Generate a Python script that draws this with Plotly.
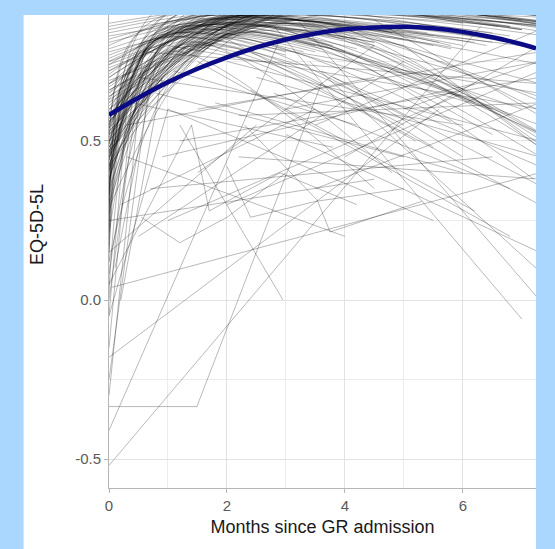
import plotly.graph_objects as go

# ---------------- data ----------------
# fitted mean trajectory (thick blue curve)
fit_x = [0, 0.5, 1, 1.5, 2, 2.5, 3, 3.5, 4, 4.5, 5, 5.5, 6, 6.5, 7, 7.24]
fit_y = [0.582, 0.636, 0.685, 0.727, 0.763, 0.794, 0.819, 0.838, 0.851,
         0.857, 0.859, 0.854, 0.843, 0.826, 0.804, 0.791]

# individual curved trajectories: start value at month 0, peak (x, y), end (x, y)
curve_y0 = [0.02, 0.05, 0.08, 0.10, 0.12, 0.15, 0.17, 0.19, 0.21, 0.23, 0.25, 0.27, 0.28, 0.30, 0.31, 0.33, 0.34, 0.12, 0.22, 0.29,
            0.36, 0.38, 0.40, 0.41, 0.42, 0.43, 0.44, 0.45, 0.46, 0.47, 0.48, 0.49, 0.50, 0.51, 0.52, 0.53, 0.54, 0.55, 0.56, 0.57,
            0.58, 0.59, 0.60, 0.37, 0.39, 0.42, 0.44, 0.46, 0.48, 0.50, 0.52, 0.54, 0.56, 0.58, 0.45, 0.49, 0.53, 0.57, 0.41, 0.47,
            0.61, 0.62, 0.63, 0.64, 0.65, 0.66, 0.67, 0.68, 0.69, 0.70, 0.71, 0.72, 0.73, 0.74, 0.75, 0.76, 0.77, 0.78, 0.79, 0.80,
            0.81, 0.82, 0.83, 0.84, 0.85, 0.86, 0.87, 0.63, 0.68, 0.74,
            0.30, 0.45, 0.55, 0.65, 0.72, 0.40, 0.60, 0.50, 0.35, 0.68, 0.58, 0.48, 0.75, 0.42, 0.62, 0.52, 0.38, 0.70, 0.56, 0.46,
            0.66, 0.33, 0.54, 0.64]
curve_xpeak = [0.9, 0.7, 1.1, 0.6, 0.8, 1.0, 0.5, 0.9, 1.3, 0.7, 0.6, 1.2, 0.8, 0.5, 1.5, 0.9, 0.7, 1.6, 1.0, 2.0,
               1.0, 1.5, 0.8, 2.0, 1.2, 2.5, 0.9, 1.8, 1.1, 3.0, 1.4, 0.7, 2.2, 1.6, 1.0, 2.8, 1.3, 0.8, 2.0, 1.5,
               3.2, 1.1, 2.4, 0.9, 1.7, 2.6, 1.2, 0.8, 2.1, 1.5, 3.0, 1.0, 1.9, 2.5, 1.3, 0.9, 2.3, 1.6, 1.1, 2.7,
               2.0, 1.5, 3.0, 2.5, 1.2, 3.5, 2.0, 1.8, 4.0, 2.2, 1.5, 3.0, 2.8, 1.6, 3.5, 2.4, 1.9, 4.0, 2.6, 1.4,
               3.2, 2.0, 3.8, 2.5, 1.8, 3.0, 2.2, 1.0, 2.9, 3.4,
               1.5, 2.0, 1.2, 2.5, 1.8, 1.0, 3.0, 2.2, 1.4, 2.8, 1.6, 2.4, 2.0, 1.1, 3.2, 1.9, 1.3, 2.6, 2.1, 1.7,
               3.4, 1.2, 2.3, 2.9]
curve_ypeak = [0.80, 0.84, 0.78, 0.86, 0.82, 0.88, 0.80, 0.85, 0.90, 0.83, 0.79, 0.87, 0.91, 0.84, 0.86, 0.89, 0.82, 0.80, 0.88, 0.85,
               0.86, 0.88, 0.82, 0.90, 0.85, 0.92, 0.84, 0.87, 0.89, 0.91, 0.83, 0.81, 0.88, 0.86, 0.90, 0.93, 0.85, 0.84, 0.89, 0.87,
               0.92, 0.86, 0.90, 0.83, 0.88, 0.91, 0.85, 0.82, 0.87, 0.89, 0.93, 0.84, 0.88, 0.90, 0.86, 0.83, 0.89, 0.87, 0.85, 0.91,
               0.88, 0.86, 0.90, 0.89, 0.85, 0.92, 0.87, 0.88, 0.91, 0.90, 0.86, 0.93, 0.89, 0.88, 0.92, 0.90, 0.87, 0.94, 0.91, 0.89,
               0.93, 0.90, 0.92, 0.91, 0.90, 0.94, 0.92, 0.84, 0.89, 0.93,
               0.82, 0.86, 0.80, 0.88, 0.85, 0.78, 0.87, 0.84, 0.80, 0.89, 0.83, 0.86, 0.87, 0.79, 0.88, 0.85, 0.81, 0.90, 0.84, 0.82,
               0.88, 0.80, 0.86, 0.87]
curve_xend = [4.0, 6.5, 3.2, 8.0, 5.5, 7.5, 2.5, 9.0, 6.0, 4.5, 8.5, 3.8, 7.0, 5.0, 9.0, 6.8, 3.0, 7.8, 8.2, 5.8,
              5.0, 7.0, 3.5, 8.5, 6.0, 9.0, 4.2, 7.5, 5.5, 9.0, 6.5, 3.0, 8.0, 6.8, 4.8, 9.0, 7.2, 3.8, 8.8, 5.2,
              9.0, 6.2, 8.0, 4.5, 7.8, 9.0, 5.8, 3.3, 8.4, 6.6, 9.0, 4.0, 7.0, 8.6, 6.4, 3.6, 8.2, 7.4, 5.6, 9.0,
              6.0, 4.5, 8.5, 7.0, 3.8, 9.0, 5.5, 6.5, 9.0, 7.8, 4.2, 9.0, 8.0, 5.0, 9.0, 7.5, 6.2, 9.0, 8.6, 4.8,
              9.0, 6.8, 9.0, 8.2, 5.4, 9.0, 7.6, 3.5, 8.8, 9.0,
              6.0, 7.5, 5.0, 8.5, 7.0, 4.5, 9.0, 6.5, 5.5, 8.0, 6.8, 7.2, 8.8, 5.2, 9.0, 6.2, 4.8, 8.4, 7.8, 5.8,
              9.0, 5.0, 7.4, 8.6]
curve_yend = [0.78, 0.82, 0.74, 0.85, 0.80, 0.86, 0.79, 0.83, 0.87, 0.81, 0.76, 0.84, 0.88, 0.80, 0.82, 0.86, 0.78, 0.72, 0.85, 0.80,
              0.82, 0.85, 0.78, 0.88, 0.80, 0.87, 0.79, 0.84, 0.86, 0.85, 0.81, 0.77, 0.86, 0.83, 0.84, 0.88, 0.80, 0.80, 0.87, 0.82,
              0.86, 0.83, 0.85, 0.81, 0.84, 0.89, 0.79, 0.78, 0.83, 0.86, 0.87, 0.82, 0.85, 0.84, 0.80, 0.79, 0.88, 0.83, 0.81, 0.86,
              0.84, 0.80, 0.87, 0.85, 0.79, 0.88, 0.83, 0.84, 0.86, 0.87, 0.82, 0.89, 0.85, 0.84, 0.88, 0.86, 0.81, 0.87, 0.88, 0.85,
              0.89, 0.86, 0.87, 0.88, 0.84, 0.90, 0.87, 0.80, 0.83, 0.86,
              0.45, 0.50, 0.55, 0.40, 0.60, 0.35, 0.30, 0.52, 0.48, 0.45, 0.58, 0.38, 0.55, 0.50, 0.42, 0.62, 0.40, 0.35, 0.48, 0.56,
              0.25, 0.58, 0.44, 0.52]

# individuals with two observations (straight segments): start (x, y) -> end (x, y)
seg_x0 = [0.0, 0.0, 0.0, 0.05, 1.2, 2.8, 3.2, 3.4, 3.0, 2.0, 1.5, 2.5, 3.0, 1.0, 0.3, 0.5, 1.0, 2.0, 0.2, 3.5,
          0.0, 1.5, 4.0, 0.7, 2.2, 0.0, 1.8, 4.5, 5.0, 0.0, 0.0, 0.2, 0.0, 0.0, 0.0, 0.0, 0.0, 0.1, 2.4, 3.6,
          0.5, 1.0, 1.2, 0.8, 2.0, 1.5, 2.5, 3.0, 0.3, 0.6, 1.8, 4.0, 3.5, 2.8, 1.1, 5.0, 0.9, 2.2, 3.8, 0.4]
seg_y0 = [-0.41, -0.52, -0.18, 0.04, 0.55, 0.86, 0.88, 0.75, 0.52, 0.82, 0.75, 0.70, 0.85, 0.60, 0.45, 0.20, 0.25, 0.30, 0.30, 0.35,
          0.15, 0.40, 0.45, 0.35, 0.45, 0.25, 0.62, 0.88, 0.80, 0.05, -0.05, 0.00, -0.30, -0.15, -0.05, 0.00, -0.25, 0.10, 0.66, 0.72,
          0.70, 0.80, 0.50, 0.65, 0.75, 0.60, 0.80, 0.60, 0.55, 0.78, 0.85, 0.85, 0.55, 0.65, 0.72, 0.60, 0.45, 0.58, 0.70, 0.62]
seg_x1 = [2.9, 6.3, 5.6, 7.3, 2.95, 7.0, 7.3, 7.3, 7.3, 7.3, 6.8, 7.3, 7.3, 5.5, 4.0, 5.0, 6.0, 7.3, 3.5, 7.3,
          2.5, 4.5, 7.3, 6.5, 7.3, 4.5, 6.0, 7.3, 7.3, 1.4, 1.0, 0.9, 0.5, 0.4, 0.3, 0.6, 0.7, 0.8, 6.2, 7.3,
          6.0, 7.3, 7.3, 5.0, 7.3, 7.3, 7.3, 7.3, 4.5, 7.3, 6.5, 7.3, 7.3, 6.8, 4.2, 7.3, 6.2, 7.3, 7.3, 3.8]
seg_y1 = [0.82, 0.86, 0.60, 0.40, 0.00, -0.06, 0.00, 0.09, 0.15, 0.30, 0.20, 0.45, 0.55, 0.25, 0.20, 0.75, 0.65, 0.72, 0.60, 0.62,
          0.55, 0.80, 0.80, 0.45, 0.38, 0.38, 0.40, 0.58, 0.48, 0.55, 0.60, 0.70, 0.60, 0.65, 0.60, 0.80, 0.70, 0.75, 0.28, 0.36,
          0.55, 0.60, 0.70, 0.45, 0.50, 0.78, 0.65, 0.75, 0.70, 0.68, 0.60, 0.68, 0.85, 0.35, 0.55, 0.75, 0.68, 0.62, 0.42, 0.48]

# individuals with several observations (broken lines)
poly1_x = [0.0, 1.49, 3.6]
poly1_y = [-0.335, -0.335, 0.68]
poly2_x = [0.55, 1.2, 2.0, 3.0]
poly2_y = [0.26, 0.18, 0.26, 0.40]
poly3_x = [2.0, 2.4, 3.5, 5.0]
poly3_y = [0.42, 0.26, 0.31, 0.35]
poly4_x = [2.3, 3.53, 3.75, 5.3]
poly4_y = [0.55, 0.314, 0.214, 0.31]
poly5_x = [1.4, 1.7, 2.9, 4.2]
poly5_y = [0.55, 0.28, 0.40, 0.30]

# axis ticks and titles
x_ticks = [0, 2, 4, 6]
x_minor = [1, 3, 5]
y_ticks = [-0.5, 0.0, 0.5]
y_tick_text = ["-0.5", "0.0", "0.5"]
y_minor = [-0.25, 0.25, 0.75]
x_title = "Months since GR admission"
y_title = "EQ-5D-5L"

# ---------------- figure ----------------
GREY = "rgba(0,0,0,0.28)"
FONT = "Liberation Sans, Arial, sans-serif"
fig = go.Figure()

for y0, xp, yp, xe, ye in zip(curve_y0, curve_xpeak, curve_ypeak, curve_xend, curve_yend):
    fig.add_trace(go.Scatter(x=[0, xp, xe], y=[y0, yp, ye], mode="lines",
                             line=dict(color=GREY, width=1, shape="spline", smoothing=0.9),
                             hoverinfo="skip", showlegend=False))

for x0, y0, x1, y1 in zip(seg_x0, seg_y0, seg_x1, seg_y1):
    fig.add_trace(go.Scatter(x=[x0, x1], y=[y0, y1], mode="lines",
                             line=dict(color=GREY, width=1),
                             hoverinfo="skip", showlegend=False))

for px, py in [(poly1_x, poly1_y), (poly2_x, poly2_y), (poly3_x, poly3_y),
               (poly4_x, poly4_y), (poly5_x, poly5_y)]:
    fig.add_trace(go.Scatter(x=px, y=py, mode="lines",
                             line=dict(color=GREY, width=1),
                             hoverinfo="skip", showlegend=False))

fig.add_trace(go.Scatter(x=fit_x, y=fit_y, mode="lines",
                         line=dict(color="#0b0b86", width=4.5, shape="spline"),
                         hoverinfo="skip", showlegend=False))

# white panel on the light-blue frame
fig.add_shape(type="rect", xref="paper", yref="paper", x0=-0.2, x1=1.0, y0=-0.2, y1=1.0,
              fillcolor="white", line=dict(width=0), layer="below")

# y-axis title (the original panel is cropped at the top, so the title sits above the visible centre)
fig.add_annotation(text=y_title, xref="paper", yref="paper", x=-0.1686, y=0.556,
                   textangle=-90, showarrow=False, xanchor="center", yanchor="middle",
                   font=dict(family=FONT, size=18, color="#1a1a1a"))

axis_common = dict(showgrid=True, gridcolor="#e2e2e2", gridwidth=1,
                   showline=True, linecolor="#b5b5b5", linewidth=1,
                   ticks="outside", ticklen=4, tickcolor="#b5b5b5",
                   tickfont=dict(family=FONT, size=15, color="#5a5a5a"),
                   zeroline=False, mirror=False)

fig.update_layout(
    width=555, height=549,
    margin=dict(l=109, r=19, t=15, b=61),
    paper_bgcolor="#a9d7fe",
    plot_bgcolor="white",
    showlegend=False,
    xaxis=dict(range=[0, 7.24], tickvals=x_ticks, ticktext=[str(v) for v in x_ticks],
               minor=dict(tickvals=x_minor, showgrid=True, gridcolor="#ececec", ticks=""),
               title=dict(text=x_title, standoff=7,
                          font=dict(family=FONT, size=18, color="#1a1a1a")),
               **axis_common),
    yaxis=dict(range=[-0.591, 0.896], tickvals=y_ticks, ticktext=y_tick_text,
               minor=dict(tickvals=y_minor, showgrid=True, gridcolor="#ececec", ticks=""),
               automargin=False,
               **axis_common),
)

fig.write_html("out.html", config={"displayModeBar": False},
               post_script="document.body.style.margin='0px';")
